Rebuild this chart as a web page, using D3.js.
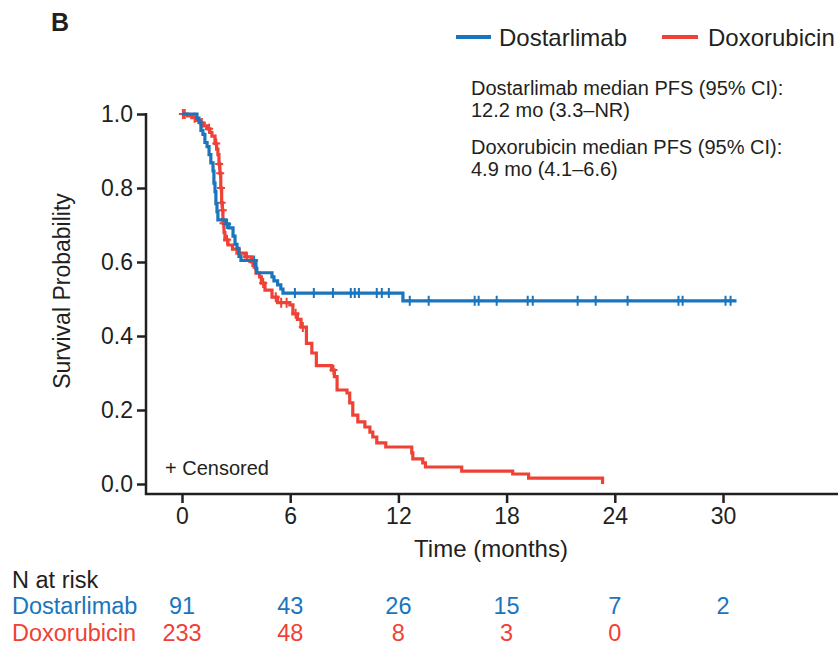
<!DOCTYPE html>
<html>
<head>
<style>
body{
    margin: 0;
    background: #fff;
}
text{
    font-family: "Liberation Sans", Arial, sans-serif;
}
</style>
</head>
<body>
<svg id="km"></svg>

<script src="https://cdn.jsdelivr.net/npm/d3@7"></script>
<script>
// Dostarlimab: step times (months) and survival after each step
var dostTime = [0, 0.83, 0.94, 1.05, 1.16, 1.27, 1.39, 1.5, 1.6, 1.72, 1.77, 1.83, 1.88, 1.94, 1.99, 2.44, 2.6, 2.83, 2.94, 3.05, 3.16, 3.27, 4.1, 4.15, 4.99, 5.1, 5.3, 5.48, 5.6, 12.25, 30.75];
var dostSurv = [1, 0.989, 0.978, 0.956, 0.945, 0.923, 0.912, 0.89, 0.868, 0.846, 0.813, 0.79, 0.758, 0.736, 0.714, 0.703, 0.692, 0.67, 0.648, 0.637, 0.615, 0.604, 0.582, 0.571, 0.56, 0.549, 0.538, 0.527, 0.516, 0.495, 0.495];
var dostCens = [2.5, 4.0, 6.26, 7.31, 8.37, 9.36, 9.58, 9.81, 10.8, 11.08, 11.47, 12.63, 13.68, 16.23, 16.45, 17.45, 19.17, 19.45, 21.94, 22.94, 24.71, 27.53, 27.76, 30.14, 30.42];

// Doxorubicin
var doxoTime = [0, 0.3, 0.55, 0.8, 1.0, 1.2, 1.39, 1.55, 1.66, 1.83, 1.92, 1.99, 2.05, 2.1, 2.15, 2.2, 2.24, 2.27, 2.33, 2.38, 2.55, 2.8, 3.05, 3.5, 3.85, 4.0, 4.1, 4.3, 4.4, 4.6, 4.99, 5.3, 5.98, 6.15, 6.4, 6.6, 6.9, 7.2, 7.45, 8.3, 8.45, 8.6, 9.15, 9.3, 9.47, 9.75, 10.14, 10.42, 10.58, 10.8, 11.3, 12.74, 12.8, 13.35, 13.5, 15.51, 18.34, 19.22, 23.32];
var doxoSurv = [1, 0.995, 0.99, 0.983, 0.976, 0.968, 0.96, 0.95, 0.94, 0.92, 0.905, 0.89, 0.865, 0.84, 0.8, 0.76, 0.74, 0.705, 0.68, 0.66, 0.646, 0.635, 0.624, 0.614, 0.6, 0.586, 0.57, 0.56, 0.543, 0.524, 0.505, 0.49, 0.484, 0.46, 0.445, 0.424, 0.38, 0.354, 0.32, 0.308, 0.29, 0.254, 0.246, 0.219, 0.186, 0.168, 0.154, 0.14, 0.127, 0.111, 0.1, 0.084, 0.068, 0.057, 0.046, 0.035, 0.027, 0.016, 0];
var doxoCens = [0.05, 0.15, 0.7, 1.1, 1.5, 1.9, 2.06, 2.12, 2.16, 2.2, 2.26, 2.3, 2.5, 3.2, 3.6, 3.9, 4.5, 5.2, 5.5, 5.8, 6.3, 6.7, 8.4];

var xTicks = [0, 6, 12, 18, 24, 30];
var yTicks = [0, 0.2, 0.4, 0.6, 0.8, 1.0];
var riskDost = [91, 43, 26, 15, 7, 2];
var riskDoxo = [233, 48, 8, 3, 0];

var blue = '#1a75bc';
var red = '#ef4136';
var ink = '#231f20';

var width = 838, height = 646;
var x = d3.scaleLinear().domain([0, 30]).range([182, 723]);
var y = d3.scaleLinear().domain([0, 1]).range([484, 114]);
var axisX = 146, axisY = 494;

var svg = d3.select('#km')
    .attr('width', width)
    .attr('height', height);

function label(px, py, str, size, color, anchor, weight) {
    return svg.append('text')
        .attr('x', px)
        .attr('y', py)
        .attr('font-size', size)
        .attr('fill', color || ink)
        .attr('text-anchor', anchor || 'start')
        .attr('font-weight', weight || 'normal')
        .text(str);
}

function survAt(times, surv, t) {
    var i = d3.bisectRight(times, t) - 1;
    return surv[Math.max(0, i)];
}

// axes
var yAxis = svg.append('g')
    .attr('transform', 'translate(' + axisX + ',0)')
    .call(d3.axisLeft(y).tickValues(yTicks).tickSize(9).tickPadding(4).tickFormat(d3.format('.1f')));
var xAxis = svg.append('g')
    .attr('transform', 'translate(0,' + axisY + ')')
    .call(d3.axisBottom(x).tickValues(xTicks).tickSize(9).tickPadding(5));
[yAxis, xAxis].forEach(function (g) {
    g.select('.domain').remove();
    g.selectAll('.tick line').attr('stroke', ink).attr('stroke-width', 2.5);
    g.selectAll('.tick text').attr('font-size', 23).attr('fill', ink)
        .attr('font-family', '"Liberation Sans", Arial, sans-serif');
});
svg.append('path')
    .attr('d', 'M' + axisX + ',' + (y(1) - 1) + 'V' + axisY + 'H' + width)
    .attr('fill', 'none')
    .attr('stroke', ink)
    .attr('stroke-width', 2.5);

// curves
var line = d3.line()
    .x(function (d) { return x(d[0]); })
    .y(function (d) { return y(d[1]); })
    .curve(d3.curveStepAfter);

function drawArm(times, surv, cens, color) {
    var pts = times.map(function (t, i) { return [t, surv[i]]; });
    svg.append('path')
        .datum(pts)
        .attr('d', line)
        .attr('fill', 'none')
        .attr('stroke', color)
        .attr('stroke-width', 3.2);
    svg.selectAll(null).data(cens).enter().append('path')
        .attr('d', function (t) {
            var cx = x(t), cy = y(survAt(times, surv, t));
            return 'M' + (cx - 4) + ',' + cy + 'H' + (cx + 4) + 'M' + cx + ',' + (cy - 5) + 'V' + (cy + 5);
        })
        .attr('stroke', color)
        .attr('stroke-width', 2);
}
drawArm(doxoTime, doxoSurv, doxoCens, red);
drawArm(dostTime, dostSurv, dostCens, blue);

// titles and labels
label(51, 31, 'B', 25, ink, 'start', 'bold');
label(491, 557, 'Time (months)', 24, ink, 'middle');
svg.append('text')
    .attr('transform', 'translate(70,291) rotate(-90)')
    .attr('font-size', 23)
    .attr('fill', ink)
    .attr('text-anchor', 'middle')
    .text('Survival Probability');
label(165, 475, '+ Censored', 20, ink);

// legend
svg.append('line').attr('x1', 456).attr('x2', 491).attr('y1', 37).attr('y2', 37)
    .attr('stroke', blue).attr('stroke-width', 4);
label(499, 46, 'Dostarlimab', 24, ink);
svg.append('line').attr('x1', 662).attr('x2', 698).attr('y1', 37).attr('y2', 37)
    .attr('stroke', red).attr('stroke-width', 4);
label(708, 46, 'Doxorubicin', 24, ink);

// medians
label(471, 95, 'Dostarlimab median PFS (95% CI):', 20, ink);
label(471, 117, '12.2 mo (3.3\u2013NR)', 20, ink);
label(471, 154, 'Doxorubicin median PFS (95% CI):', 20, ink);
label(471, 176, '4.9 mo (4.1\u20136.6)', 20, ink);

// number at risk
label(12, 588, 'N at risk', 23.5, ink);
label(12, 614, 'Dostarlimab', 23.5, blue);
label(12, 641, 'Doxorubicin', 23.5, red);
riskDost.forEach(function (n, i) {
    label(x(xTicks[i]), 614, n, 23.5, blue, 'middle');
});
riskDoxo.forEach(function (n, i) {
    label(x(xTicks[i]), 641, n, 23.5, red, 'middle');
});
</script>
</body>
</html>
